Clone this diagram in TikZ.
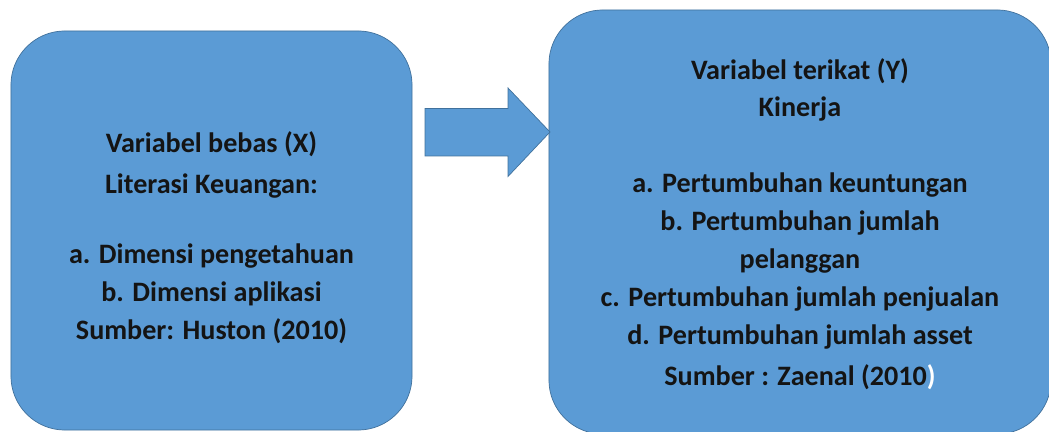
\documentclass[tikz,border=0pt]{standalone}
\usepackage{fontspec}
\setmainfont{Carlito}
\usetikzlibrary{positioning}
\definecolor{boxblue}{HTML}{5B9BD5}
\definecolor{boxline}{HTML}{41719C}
\definecolor{inkdark}{HTML}{141414}
\begin{document}
\begin{tikzpicture}
[x=0.025cm,y=0.025cm,%
  panel/.style={draw=boxline,fill=boxblue,line width=0.5pt,rounded corners=1.35cm,inner sep=0pt},
  paneltext/.style={align=center,text=inkdark,font=\fontsize{20}{27}\selectfont\bfseries,inner sep=0pt},
  blockarrow/.style={draw=boxline,fill=boxblue,line width=0.5pt}]
\useasboundingbox (0,0) rectangle (1049,432);
%% nodes or boxes
\node[panel,minimum width=10.025cm,minimum height=9.975cm] (bebas) at (211.5,201.5) {};
\node[panel,minimum width=12.55cm,minimum height=10.6cm] (terikat) at (800,210) {};
%% texts of the boxes
\node[paneltext,yshift=-0.175cm] (bebastext) at (bebas.center)
  {Variabel bebas (X)\\[2pt]Literasi Keuangan:\\[23pt]
   a. Dimensi pengetahuan\\b. Dimensi aplikasi\\Sumber: Huston (2010)};
\node[paneltext,yshift=-0.05cm] (terikattext) at (terikat.center)
  {Variabel terikat (Y)\\Kinerja\\[27pt]
   a. Pertumbuhan keuntungan\\b. Pertumbuhan jumlah\\pelanggan\\
   c. Pertumbuhan jumlah penjualan\\d. Pertumbuhan jumlah asset\\[2pt]
   Sumber : Zaenal (2010\textcolor{white}{)}};
%% block arrow between the boxes
\coordinate (tail) at (425,300);
\coordinate (tip) at (550,300);
\path[blockarrow] (tail) ++(0,23.5) -- ++(83,0) -- ++(0,20.5) -- (tip)
  -- ++(-42,-44.5) -- ++(0,20.5) -- ++(-83,0) -- cycle;
\end{tikzpicture}
\end{document}
